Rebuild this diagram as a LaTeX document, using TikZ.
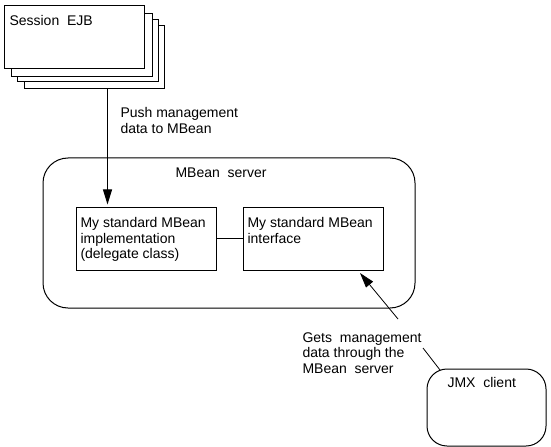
\documentclass[tikz,border=0pt]{standalone}
\usepackage{fontspec}
\setmainfont{Liberation Sans}
\usetikzlibrary{arrows.meta}
\begin{document}
\begin{tikzpicture}[x=1bp,y=-1bp,line width=1bp,
  box/.style={draw,fill=white,rectangle,inner sep=0,anchor=north west},
  lbl/.style={font=\fontsize{14bp}{15.5bp}\selectfont,align=left,inner sep=0,anchor=north west},
  arr/.style={-{Triangle[length=15bp,width=9bp]}}]
\useasboundingbox (0,0) rectangle (551,447);
% Session EJB stack
\node[box,minimum width=140bp,minimum height=63bp] (s4) at (23.5,25.5) {};
\node[box,minimum width=141bp,minimum height=62bp] (s3) at (16.5,19.5) {};
\node[box,minimum width=141bp,minimum height=63bp] (s2) at (10.5,13.5) {};
\node[box,minimum width=140bp,minimum height=63bp] (s1) at (3.5,5.5) {};
\node[lbl] (sessionlbl) at (9,15) {Session\ \ EJB};
% MBean server
\node[box,rounded corners=25bp,minimum width=372bp,minimum height=150bp] (server) at (42.5,157.5) {};
\node[lbl] (serverlbl) at (175,167) {MBean\ \ server};
\node[box,minimum width=140bp,minimum height=62bp] (impl) at (75.5,207.5) {};
\node[lbl] (impllbl) at (80,217) {My standard MBean\\implementation\\(delegate class)};
\node[box,minimum width=140bp,minimum height=62bp] (iface) at (242.5,207.5) {};
\node[lbl] (ifacelbl) at (247,217) {My standard MBean\\interface};
\draw (impl.east) -- (iface.west);
% push arrow
\coordinate (px) at (107.5,0);
\draw[arr,shorten >=3bp] (s4.south -| px) -- (impl.north -| px);
\node[lbl] (pushlbl) at (120,107) {Push management\\data to MBean};
% JMX client
\node[box,rounded corners=20bp,minimum width=119bp,minimum height=77bp] (jmx) at (426.5,368.5) {};
\node[lbl] (jmxlbl) at (447,377) {JMX\ \ client};
\node[lbl] (getslbl) at (302,332) {Gets\ \ management\\data through the\\MBean\ \ server};
\coordinate (jmxend) at (440,370);
\coordinate (gapA) at (423,348);
\coordinate (gapB) at (398,319);
\coordinate (tip) at (360,273);
\draw[line width=0.8bp] (jmxend) -- (gapA);
\draw[arr,line width=0.8bp] (gapB) -- (tip);
\end{tikzpicture}
\end{document}
